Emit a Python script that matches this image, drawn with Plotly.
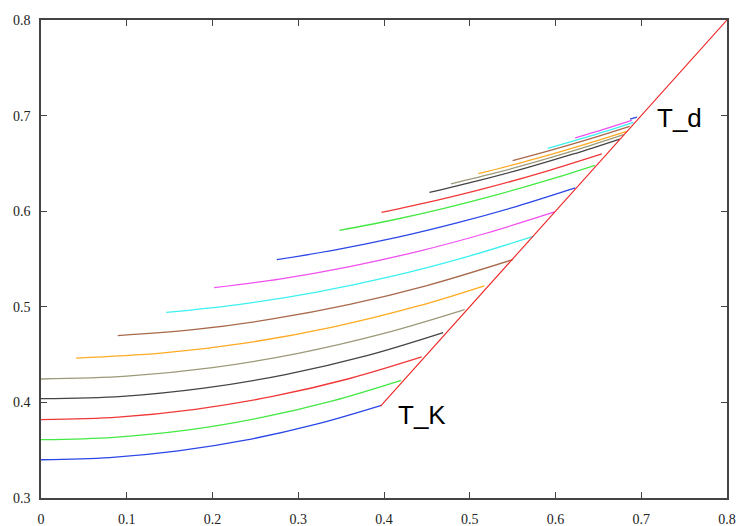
import plotly.graph_objects as go

# Family of curves, listed bottom to top: (x, y) samples along each curve
curve_x = [
    [0.0, 0.08, 0.16, 0.24, 0.32, 0.397],
    [0.0, 0.085, 0.17, 0.255, 0.34, 0.420],
    [0.0, 0.09, 0.18, 0.27, 0.36, 0.444],
    [0.0, 0.095, 0.19, 0.285, 0.38, 0.469],
    [0.0, 0.10, 0.20, 0.30, 0.40, 0.494],
    [0.041, 0.14, 0.24, 0.34, 0.44, 0.517],
    [0.0895, 0.18, 0.27, 0.36, 0.45, 0.550],
    [0.146, 0.23, 0.32, 0.41, 0.49, 0.574],
    [0.202, 0.28, 0.36, 0.44, 0.52, 0.599],
    [0.275, 0.345, 0.415, 0.485, 0.555, 0.623],
    [0.348, 0.41, 0.47, 0.53, 0.59, 0.646],
    [0.397, 0.46, 0.52, 0.59, 0.654],
    [0.453, 0.51, 0.565, 0.62, 0.675],
    [0.478, 0.53, 0.58, 0.63, 0.6795],
    [0.510, 0.555, 0.60, 0.64, 0.683],
    [0.550, 0.595, 0.64, 0.6865],
    [0.591, 0.64, 0.691],
    [0.623, 0.656, 0.689],
    [0.687, 0.695],
]
curve_y = [
    [0.340, 0.3423, 0.3493, 0.3608, 0.3770, 0.397],
    [0.361, 0.3635, 0.3709, 0.3837, 0.4015, 0.423],
    [0.382, 0.3847, 0.3928, 0.4062, 0.4250, 0.4475],
    [0.404, 0.4064, 0.4149, 0.4291, 0.4489, 0.473],
    [0.4245, 0.4275, 0.4364, 0.4513, 0.4721, 0.497],
    [0.4464, 0.4515, 0.4623, 0.4788, 0.5009, 0.522],
    [0.4698, 0.4763, 0.4873, 0.5025, 0.5222, 0.5493],
    [0.4941, 0.5023, 0.5151, 0.5320, 0.5506, 0.5736],
    [0.520, 0.5293, 0.5421, 0.5580, 0.5772, 0.5992],
    [0.5493, 0.5598, 0.5725, 0.5877, 0.6051, 0.6243],
    [0.580, 0.5908, 0.6030, 0.6168, 0.6322, 0.648],
    [0.5987, 0.6110, 0.6243, 0.6420, 0.660],
    [0.6197, 0.6320, 0.6451, 0.6596, 0.6755],
    [0.6285, 0.6400, 0.6523, 0.6656, 0.680],
    [0.6392, 0.6496, 0.6607, 0.6714, 0.6835],
    [0.6528, 0.6638, 0.6756, 0.6887],
    [0.6657, 0.6785, 0.693],
    [0.6766, 0.6856, 0.695],
    [0.6964, 0.6985],
]

# Colour cycle used for the curves
palette = ["#2a46e6", "#44e844", "#f03838", "#444444", "#9c9a7a",
           "#ffaa22", "#a8694a", "#3cf0f0", "#f050f0"]

# Boundary line T_K -> T_d
boundary_x = [0.396, 0.8]
boundary_y = [0.396, 0.8]

# Axis ticks
tick_vals = [0.0, 0.1, 0.2, 0.3, 0.4, 0.5, 0.6, 0.7, 0.8]
tick_text = ["0", "0.1", "0.2", "0.3", "0.4", "0.5", "0.6", "0.7", "0.8"]
ytick_vals = [0.3, 0.4, 0.5, 0.6, 0.7, 0.8]
ytick_text = ["0.3", "0.4", "0.5", "0.6", "0.7", "0.8"]

fig = go.Figure()

for i, (xs, ys) in enumerate(zip(curve_x, curve_y)):
    fig.add_trace(go.Scatter(
        x=xs, y=ys, mode="lines",
        line=dict(color=palette[i % len(palette)], width=1.3, shape="spline", smoothing=1.0),
        showlegend=False, hoverinfo="skip",
    ))

fig.add_trace(go.Scatter(
    x=boundary_x, y=boundary_y, mode="lines",
    line=dict(color="#ee2222", width=1.1),
    showlegend=False, hoverinfo="skip",
))

label_font = dict(family="Liberation Sans, Arial, sans-serif", size=26, color="#000000")
fig.add_annotation(x=0.444, y=0.387, text="T_K", showarrow=False,
                   xanchor="center", yanchor="middle", font=label_font)
fig.add_annotation(x=0.745, y=0.697, text="T_d", showarrow=False,
                   xanchor="center", yanchor="middle", font=label_font)

tick_font = dict(family="Liberation Serif", size=14, color="#222222")
axis_common = dict(
    showline=True, linecolor="#444444", linewidth=1.5, mirror="ticks",
    ticks="inside", ticklen=6, tickwidth=1, tickcolor="#444444",
    showgrid=False, zeroline=False, tickfont=tick_font, automargin=False,
)

fig.update_xaxes(range=[0, 0.8], tickvals=tick_vals, ticktext=tick_text,
                 ticklabelstandoff=7, **axis_common)
fig.update_yaxes(range=[0.3, 0.8], tickvals=ytick_vals, ticktext=ytick_text,
                 ticklabelstandoff=6, **axis_common)

fig.update_layout(
    width=738, height=526,
    margin=dict(l=41, r=11, t=20, b=28),
    paper_bgcolor="white", plot_bgcolor="white",
)

fig.write_html("out.html")
